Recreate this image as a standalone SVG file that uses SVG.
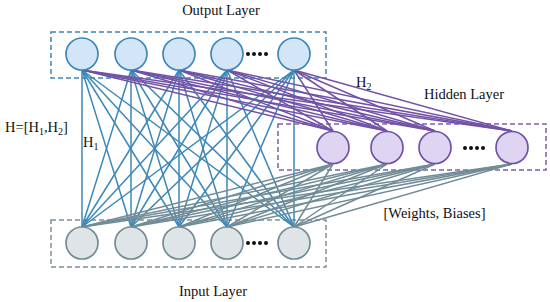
<svg xmlns="http://www.w3.org/2000/svg" width="550" height="302" viewBox="0 0 550 302">
<style>
text{font-family:"Liberation Serif","Times New Roman",serif;font-size:14.5px;fill:#111}
.box{fill:none;stroke-width:1.5;stroke-dasharray:5,3}
.ob{stroke:#3d88b8}.hb{stroke:#7e5fae}.ib{stroke:#7e9099}
.lb line{stroke:#3d88b8;stroke-width:1.5}
.lp line{stroke:#7352a6;stroke-width:1.5}
.lg line{stroke:#718c96;stroke-width:1.5}
.on{fill:#d3e6f8;stroke:#3d88b8;stroke-width:1.7}
.hn{fill:#ddd5f1;stroke:#7352a6;stroke-width:1.7}
.in{fill:#dfe4e7;stroke:#718c96;stroke-width:1.7}
.dot{fill:#111}
</style>
<g id="boxes">
<rect class="box ob" x="51" y="32" width="275" height="46"/>
<rect class="box hb" x="278" y="124" width="268" height="46"/>
<rect class="box ib" x="51" y="220" width="275" height="47"/>
</g>
<g id="connectors">
<g class="lb">
<line x1="82" y1="70" x2="82" y2="227"/><line x1="82" y1="70" x2="131" y2="227"/><line x1="82" y1="70" x2="179" y2="227"/><line x1="82" y1="70" x2="227" y2="227"/><line x1="82" y1="70" x2="294" y2="227"/>
<line x1="131" y1="70" x2="82" y2="227"/><line x1="131" y1="70" x2="131" y2="227"/><line x1="131" y1="70" x2="179" y2="227"/><line x1="131" y1="70" x2="227" y2="227"/><line x1="131" y1="70" x2="294" y2="227"/>
<line x1="179" y1="70" x2="82" y2="227"/><line x1="179" y1="70" x2="131" y2="227"/><line x1="179" y1="70" x2="179" y2="227"/><line x1="179" y1="70" x2="227" y2="227"/><line x1="179" y1="70" x2="294" y2="227"/>
<line x1="227" y1="70" x2="82" y2="227"/><line x1="227" y1="70" x2="131" y2="227"/><line x1="227" y1="70" x2="179" y2="227"/><line x1="227" y1="70" x2="227" y2="227"/><line x1="227" y1="70" x2="294" y2="227"/>
<line x1="294" y1="70" x2="82" y2="227"/><line x1="294" y1="70" x2="131" y2="227"/><line x1="294" y1="70" x2="179" y2="227"/><line x1="294" y1="70" x2="227" y2="227"/><line x1="294" y1="70" x2="294" y2="227"/>
</g>
<g class="lp">
<line x1="82" y1="70" x2="333" y2="131"/><line x1="82" y1="70" x2="387" y2="131"/><line x1="82" y1="70" x2="435" y2="131"/><line x1="82" y1="70" x2="512" y2="131"/>
<line x1="131" y1="70" x2="333" y2="131"/><line x1="131" y1="70" x2="387" y2="131"/><line x1="131" y1="70" x2="435" y2="131"/><line x1="131" y1="70" x2="512" y2="131"/>
<line x1="179" y1="70" x2="333" y2="131"/><line x1="179" y1="70" x2="387" y2="131"/><line x1="179" y1="70" x2="435" y2="131"/><line x1="179" y1="70" x2="512" y2="131"/>
<line x1="227" y1="70" x2="333" y2="131"/><line x1="227" y1="70" x2="387" y2="131"/><line x1="227" y1="70" x2="435" y2="131"/><line x1="227" y1="70" x2="512" y2="131"/>
<line x1="294" y1="70" x2="333" y2="131"/><line x1="294" y1="70" x2="387" y2="131"/><line x1="294" y1="70" x2="435" y2="131"/><line x1="294" y1="70" x2="512" y2="131"/>
</g>
<g class="lg">
<line x1="82" y1="227" x2="333" y2="164"/><line x1="82" y1="227" x2="387" y2="164"/><line x1="82" y1="227" x2="435" y2="164"/><line x1="82" y1="227" x2="512" y2="164"/>
<line x1="131" y1="227" x2="333" y2="164"/><line x1="131" y1="227" x2="387" y2="164"/><line x1="131" y1="227" x2="435" y2="164"/><line x1="131" y1="227" x2="512" y2="164"/>
<line x1="179" y1="227" x2="333" y2="164"/><line x1="179" y1="227" x2="387" y2="164"/><line x1="179" y1="227" x2="435" y2="164"/><line x1="179" y1="227" x2="512" y2="164"/>
<line x1="227" y1="227" x2="333" y2="164"/><line x1="227" y1="227" x2="387" y2="164"/><line x1="227" y1="227" x2="435" y2="164"/><line x1="227" y1="227" x2="512" y2="164"/>
<line x1="294" y1="227" x2="333" y2="164"/><line x1="294" y1="227" x2="387" y2="164"/><line x1="294" y1="227" x2="435" y2="164"/><line x1="294" y1="227" x2="512" y2="164"/>
</g>
</g>
<g id="output-layer">
<circle id="o1" class="on" cx="82" cy="54" r="16"/>
<circle id="o2" class="on" cx="131" cy="54" r="16"/>
<circle id="o3" class="on" cx="179" cy="54" r="16"/>
<circle id="o4" class="on" cx="227" cy="54" r="16"/>
<circle id="o5" class="on" cx="294" cy="54" r="16"/>
<g class="dot"><circle cx="248" cy="54" r="2"/><circle cx="254" cy="54" r="2"/><circle cx="260" cy="54" r="2"/><circle cx="266" cy="54" r="2"/></g>
</g>
<g id="hidden-layer">
<circle id="h1" class="hn" cx="333" cy="147.5" r="16"/>
<circle id="h2" class="hn" cx="387" cy="147.5" r="16"/>
<circle id="h3" class="hn" cx="435" cy="147.5" r="16"/>
<circle id="h4" class="hn" cx="512" cy="147.5" r="16"/>
<g class="dot"><circle cx="465" cy="148" r="2"/><circle cx="471" cy="148" r="2"/><circle cx="477" cy="148" r="2"/><circle cx="483" cy="148" r="2"/></g>
</g>
<g id="input-layer">
<circle id="i1" class="in" cx="82" cy="243" r="16"/>
<circle id="i2" class="in" cx="131" cy="243" r="16"/>
<circle id="i3" class="in" cx="179" cy="243" r="16"/>
<circle id="i4" class="in" cx="227" cy="243" r="16"/>
<circle id="i5" class="in" cx="294" cy="243" r="16"/>
<g class="dot"><circle cx="248" cy="243" r="2"/><circle cx="254" cy="243" r="2"/><circle cx="260" cy="243" r="2"/><circle cx="266" cy="243" r="2"/></g>
</g>
<g id="labels">
<text x="221" y="15" text-anchor="middle">Output Layer</text>
<text x="213" y="296" text-anchor="middle">Input Layer</text>
<text x="464" y="99" text-anchor="middle">Hidden Layer</text>
<text x="356" y="87">H<tspan font-size="10" dy="3">2</tspan></text>
<text x="5" y="132">H=[H<tspan font-size="10" dy="3">1</tspan><tspan dy="-3">,H</tspan><tspan font-size="10" dy="3">2</tspan><tspan dy="-3">]</tspan></text>
<text x="83" y="147">H<tspan font-size="10" dy="3">1</tspan></text>
<text x="434.5" y="218" text-anchor="middle">[Weights, Biases]</text>
</g>
</svg>
